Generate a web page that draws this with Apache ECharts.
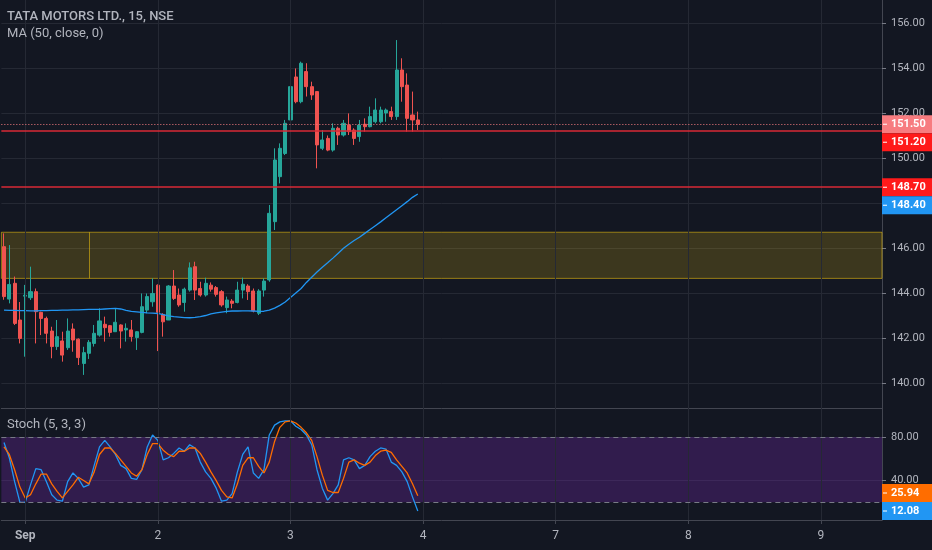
<!DOCTYPE html>
<html>
<head>
<meta charset="utf-8">
<title>TATA MOTORS 15m</title>
<script src="https://cdn.jsdelivr.net/npm/echarts@6/dist/echarts.min.js"></script>
<style>
  html, body { margin: 0; padding: 0; background: #131722; }
  #chart { width: 932px; height: 550px; }
</style>
</head>
<body>
<div id="chart"></div>
<script>
// trading days shown on the time axis (Aug 31 tail, then Sep, incl. future slots)
var days = ['2020-08-31', '2020-09-01', '2020-09-02', '2020-09-03', '2020-09-04', '2020-09-07', '2020-09-08', '2020-09-09'];
var sessionTimes = ['09:15', '09:30', '09:45', '10:00', '10:15', '10:30', '10:45', '11:00', '11:15', '11:30',
  '11:45', '12:00', '12:15', '12:30', '12:45', '13:00', '13:15', '13:30', '13:45', '14:00',
  '14:15', '14:30', '14:45', '15:00', '15:15'];
var monthNames = ['Jan', 'Feb', 'Mar', 'Apr', 'May', 'Jun', 'Jul', 'Aug', 'Sep', 'Oct', 'Nov', 'Dec'];

// candles, 15 min
var openP = [146.06, 143.73, 144.43, 142.80, 143.86, 143.79, 144.06, 143.14, 142.87, 142.31,
  141.62, 141.87, 141.57, 142.40, 141.95, 140.87, 141.32, 141.76, 142.13, 142.61,
  142.55, 142.28, 142.58, 142.36, 142.36, 142.02, 142.25, 143.24, 143.61, 144.35,
  143.05, 142.80, 144.31, 143.91, 143.58, 144.13, 145.17, 144.20, 143.91, 144.35,
  144.24, 144.06, 143.35, 143.64, 143.58, 144.13, 144.31, 144.09, 143.10, 144.13,
  144.58, 147.17, 149.17, 150.20, 151.69, 153.60, 152.50, 153.84, 153.17, 152.95,
  150.43, 150.87, 150.35, 151.32, 151.02, 151.46, 151.24, 150.95, 151.50, 151.39,
  151.61, 151.61, 152.00, 152.06, 151.84, 153.91, 153.24, 151.91, 151.69];
var highP = [146.65, 146.13, 144.73, 143.60, 144.36, 145.17, 144.20, 143.17, 142.95, 142.50,
  142.80, 142.28, 142.87, 142.65, 141.98, 141.61, 141.91, 142.58, 143.32, 142.95,
  142.58, 143.32, 142.61, 142.65, 142.80, 142.31, 143.98, 143.98, 144.65, 144.38,
  143.10, 144.35, 145.02, 144.20, 144.24, 145.36, 145.39, 144.50, 144.68, 144.47,
  144.31, 144.13, 143.84, 143.73, 144.50, 144.68, 144.39, 144.20, 144.17, 144.65,
  147.91, 150.43, 150.65, 151.69, 153.60, 153.98, 154.28, 154.21, 153.39, 152.95,
  151.24, 151.00, 151.54, 151.39, 151.69, 151.98, 151.32, 151.69, 151.76, 152.28,
  152.65, 152.28, 152.20, 152.28, 155.24, 154.43, 153.76, 152.95, 152.06];
var lowP = [143.70, 143.54, 142.58, 141.76, 141.17, 143.69, 141.76, 142.13, 141.76, 141.10,
  141.47, 140.95, 141.47, 141.39, 140.80, 140.36, 141.07, 141.62, 142.06, 141.84,
  142.06, 142.28, 141.54, 141.84, 141.84, 141.47, 142.21, 143.10, 143.39, 141.42,
  142.06, 142.80, 143.69, 143.39, 143.17, 144.06, 143.69, 143.84, 143.84, 144.06,
  143.84, 143.39, 143.10, 143.32, 143.54, 143.76, 143.69, 143.14, 143.02, 143.84,
  144.50, 146.80, 148.87, 150.13, 150.87, 152.43, 152.43, 152.73, 152.58, 149.54,
  150.35, 150.30, 150.28, 150.58, 150.95, 151.02, 150.58, 150.72, 151.17, 151.36,
  151.54, 151.54, 151.61, 151.69, 151.69, 152.50, 151.17, 151.17, 151.24];
var closeP = [143.84, 144.38, 142.65, 141.98, 143.90, 144.06, 143.17, 142.87, 142.21, 141.62,
  142.06, 141.24, 142.31, 141.91, 141.13, 141.35, 141.81, 142.21, 142.76, 142.46,
  142.25, 142.70, 142.31, 142.43, 142.06, 142.28, 143.39, 143.84, 143.98, 143.14,
  142.72, 144.31, 143.76, 143.47, 144.17, 145.12, 144.13, 143.91, 144.43, 144.17,
  143.94, 143.47, 143.69, 143.54, 144.13, 144.39, 144.06, 143.20, 144.09, 144.53,
  147.54, 149.91, 150.43, 151.54, 153.17, 152.50, 154.21, 153.17, 152.80, 150.58,
  150.80, 150.35, 151.32, 151.02, 151.54, 151.17, 150.87, 151.46, 151.39, 151.84,
  152.13, 152.13, 152.13, 151.84, 153.91, 153.17, 151.76, 151.69, 151.50];

// MA (50, close)
var ma50 = [143.24, 143.23, 143.23, 143.22, 143.22, 143.21, 143.21, 143.22, 143.22, 143.23,
  143.23, 143.24, 143.24, 143.25, 143.25, 143.26, 143.27, 143.27, 143.27, 143.29,
  143.31, 143.32, 143.29, 143.23, 143.18, 143.16, 143.14, 143.12, 143.11, 143.09,
  143.04, 142.98, 142.95, 142.93, 142.91, 142.90, 142.92, 142.95, 143.00, 143.07,
  143.12, 143.15, 143.18, 143.20, 143.20, 143.21, 143.21, 143.20, 143.18, 143.19,
  143.24, 143.33, 143.45, 143.60, 143.80, 144.00, 144.20, 144.47, 144.70, 144.93,
  145.14, 145.34, 145.55, 145.77, 145.99, 146.17, 146.33, 146.48, 146.65, 146.82,
  146.99, 147.16, 147.34, 147.52, 147.70, 147.88, 148.06, 148.25, 148.40];

// Stoch (5, 3, 3)
var stochK = [75, 61, 39, 20, 20, 36, 51, 50, 39, 27,
  22, 21, 39, 47, 42, 34, 36, 54, 71, 77,
  71, 64, 54, 51, 42, 41, 50, 71, 82, 77,
  59, 61, 65, 70, 67, 73, 70, 57, 48, 42,
  33, 21, 22, 28, 48, 64, 71, 47, 42, 50,
  82, 91, 94, 95, 95, 90, 87, 82, 73, 50,
  33, 22, 28, 36, 59, 61, 59, 51, 54, 62,
  67, 70, 69, 57, 54, 48, 39, 25, 12.08];
var stochD = [71, 64, 50, 34, 24, 27, 37, 46, 46, 37,
  30, 24, 30, 36, 43, 40, 37, 48, 64, 70,
  70, 65, 59, 53, 47, 44, 50, 64, 74, 74,
  68, 64, 62, 67, 67, 70, 70, 65, 57, 48,
  40, 31, 25, 24, 37, 54, 61, 61, 53, 47,
  57, 76, 89, 94, 95, 93, 89, 84, 77, 62,
  45, 31, 29, 29, 42, 57, 59, 56, 54, 57,
  63, 67, 68, 66, 59, 53, 47, 37, 25.94];

// drawings
var hLines = [151.20, 148.70];
var zone = [144.65, 146.70];
var zoneSplitBar = 16;
var stochBands = [20, 80];

var priceTicks = [140, 142, 144, 146, 148, 150, 152, 154, 156];
var stochTicks = [40, 80];

var FONT = 'Roboto, "Liberation Sans", sans-serif';
var TEXT = '#b2b5be';
var GRIDC = '#252934';
var SEP = '#434651';
var UP = '#26a69a';
var DOWN = '#ef5350';
var HLINE = '#d92a36';
var ZONE_EDGE = 'rgba(241,196,15,0.55)';

// time slots
var categories = [];
days.forEach(function (d, di) {
  var from = di === 0 ? 21 : 0;
  var to = di === days.length - 1 ? 12 : sessionTimes.length;
  for (var k = from; k < to; k++) {
    categories.push(d + ' ' + sessionTimes[k]);
  }
});
var dayStarts = [];
categories.forEach(function (c, i) {
  if (c.slice(11) === '09:15') dayStarts.push(i);
});
function isDayStart(i) {
  return dayStarts.indexOf(i) > -1;
}
function dayLabel(value) {
  var m = parseInt(value.slice(5, 7), 10);
  var d = parseInt(value.slice(8, 10), 10);
  return d === 1 ? '{m|' + monthNames[m - 1] + '}' : String(d);
}

var candleData = openP.map(function (o, i) {
  return [o, closeP[i], lowP[i], highP[i]];
});
var lastClose = closeP[closeP.length - 1];

var dayLines = dayStarts.map(function (i) { return { xAxis: i }; });

// helper: an empty series that only carries markLine / markArea
function overlay(axis, z, extra) {
  var s = { type: 'line', xAxisIndex: axis, yAxisIndex: axis, data: [], z: z, silent: true };
  for (var k in extra) s[k] = extra[k];
  return s;
}
function lines(data, style) {
  return { silent: true, symbol: 'none', label: { show: false }, animation: false, lineStyle: style, data: data };
}

var chart = echarts.init(document.getElementById('chart'));

var option = {
  backgroundColor: '#131722',
  animation: false,
  textStyle: { fontFamily: FONT },
  title: [
    { text: 'TATA MOTORS LTD., 15, NSE', left: 7, top: 10, padding: 0,
      textStyle: { color: TEXT, fontSize: 13, fontWeight: 500, fontFamily: FONT } },
    { text: 'MA (50, close, 0)', left: 7, top: 27, padding: 0,
      textStyle: { color: TEXT, fontSize: 13, fontWeight: 'normal', fontFamily: FONT } },
    { text: 'Stoch (5, 3, 3)', left: 7, top: 418, padding: 0,
      textStyle: { color: TEXT, fontSize: 13, fontWeight: 'normal', fontFamily: FONT } }
  ],
  grid: [
    { left: 1.35, right: 50, top: 0, height: 408 },
    { left: 1.35, right: 50, top: 408, height: 112 }
  ],
  xAxis: [
    {
      type: 'category', gridIndex: 0, data: categories,
      axisLine: { show: true, lineStyle: { color: SEP } },
      axisTick: { show: false }, axisLabel: { show: false }, splitLine: { show: false }
    },
    {
      type: 'category', gridIndex: 1, data: categories,
      axisLine: { show: true, lineStyle: { color: SEP } },
      axisTick: {
        show: true, alignWithLabel: true, length: 4, lineStyle: { color: SEP },
        interval: function (i) { return isDayStart(i); }
      },
      axisLabel: {
        color: TEXT, fontSize: 12, margin: 10, fontFamily: FONT,
        interval: function (i) { return isDayStart(i); },
        formatter: dayLabel,
        rich: { m: { fontWeight: 'bold', fontSize: 12, color: TEXT, fontFamily: FONT } }
      },
      splitLine: { show: false }
    }
  ],
  yAxis: [
    {
      type: 'value', gridIndex: 0, position: 'right', min: 138.89, max: 157.02, scale: true,
      axisLine: { show: true, lineStyle: { color: SEP } },
      axisTick: { show: true, length: 4, customValues: priceTicks, lineStyle: { color: '#787b86' } },
      axisLabel: {
        color: TEXT, fontSize: 11, margin: 9, fontFamily: FONT, customValues: priceTicks,
        formatter: function (v) { return v.toFixed(2); }
      },
      splitLine: { show: true, lineStyle: { color: GRIDC } }
    },
    {
      type: 'value', gridIndex: 1, position: 'right', min: 3.7, max: 106.8,
      axisLine: { show: true, lineStyle: { color: SEP } },
      axisTick: { show: true, length: 4, customValues: stochTicks, lineStyle: { color: '#787b86' } },
      axisLabel: {
        color: TEXT, fontSize: 11, margin: 9, fontFamily: FONT, customValues: stochTicks,
        formatter: function (v) { return v.toFixed(2); }
      },
      splitLine: { show: true, lineStyle: { color: GRIDC } }
    }
  ],
  series: [
    overlay(0, 1, { markLine: lines(dayLines, { color: GRIDC, type: 'solid', width: 1 }) }),
    {
      type: 'candlestick', xAxisIndex: 0, yAxisIndex: 0, data: candleData, z: 3,
      barWidth: 3.6,
      itemStyle: { color: UP, color0: DOWN, borderColor: UP, borderColor0: DOWN, borderWidth: 1 }
    },
    {
      type: 'line', name: 'MA', xAxisIndex: 0, yAxisIndex: 0, data: ma50, z: 4,
      showSymbol: false, smooth: false,
      lineStyle: { color: '#2196f3', width: 1.3 }
    },
    overlay(0, 5, {
      markArea: {
        silent: true,
        itemStyle: { color: 'rgba(241,196,15,0.19)', borderColor: ZONE_EDGE, borderWidth: 1 },
        data: [[{ yAxis: zone[1] }, { yAxis: zone[0] }]]
      },
      markLine: lines([[{ xAxis: zoneSplitBar, yAxis: zone[1] }, { xAxis: zoneSplitBar, yAxis: zone[0] }]],
        { color: ZONE_EDGE, type: 'solid', width: 1 })
    }),
    overlay(0, 6, {
      markLine: lines(hLines.map(function (v) { return { yAxis: v }; }),
        { color: HLINE, type: 'solid', width: 1.5 })
    }),
    overlay(0, 6, {
      markLine: lines([{ yAxis: lastClose }], { color: '#f77c80', type: [1, 2], width: 1 })
    }),
    overlay(1, 1, {
      markArea: {
        silent: true,
        itemStyle: { color: 'rgba(120,40,180,0.3)' },
        data: [[{ yAxis: stochBands[1] }, { yAxis: stochBands[0] }]]
      },
      markLine: lines(dayLines, { color: GRIDC, type: 'solid', width: 1 })
    }),
    overlay(1, 2, {
      markLine: lines(stochBands.map(function (v) { return { yAxis: v }; }),
        { color: '#787b86', type: [5, 4], width: 1 })
    }),
    {
      type: 'line', name: '%K', xAxisIndex: 1, yAxisIndex: 1, data: stochK, z: 3,
      showSymbol: false, lineStyle: { color: '#2196f3', width: 1.3 }
    },
    {
      type: 'line', name: '%D', xAxisIndex: 1, yAxisIndex: 1, data: stochD, z: 3,
      showSymbol: false, lineStyle: { color: '#ff6d00', width: 1.3 }
    }
  ]
};
chart.setOption(option);

// value tags on the price scale
var tags = [
  { value: lastClose, axis: 0, bg: '#f77c80' },
  { value: hLines[0], axis: 0, bg: '#ff1a1a' },
  { value: hLines[1], axis: 0, bg: '#ff1a1a' },
  { value: ma50[ma50.length - 1], axis: 0, bg: '#2196f3' },
  { value: stochD[stochD.length - 1], axis: 1, bg: '#ff6d00' },
  { value: stochK[stochK.length - 1], axis: 1, bg: '#2196f3' }
];
var paneBottom = [408, 520];
var TAG_H = 18;
var placed = [[], []];
tags.forEach(function (t) {
  t.y = chart.convertToPixel({ yAxisIndex: t.axis }, t.value);
});
[0, 1].forEach(function (a) {
  var list = tags.filter(function (t) { return t.axis === a; })
    .sort(function (p, q) { return p.y - q.y; });
  for (var i = 1; i < list.length; i++) {
    if (list[i].y < list[i - 1].y + TAG_H) list[i].y = list[i - 1].y + TAG_H;
    if (list[i].y + TAG_H / 2 > paneBottom[a]) {
      list[i].y = paneBottom[a] - TAG_H / 2;
      list[i - 1].y = Math.min(list[i - 1].y, list[i].y - TAG_H);
    }
  }
  placed[a] = list;
});
var graphics = [];
placed[0].concat(placed[1]).forEach(function (t) {
  graphics.push({
    type: 'rect', z: 100,
    shape: { x: 882, y: t.y - TAG_H / 2, width: 50, height: TAG_H },
    style: { fill: t.bg }
  });
  graphics.push({
    type: 'line', z: 101,
    shape: { x1: 883, y1: t.y, x2: 887, y2: t.y },
    style: { stroke: '#ffffff', lineWidth: 1 }
  });
  graphics.push({
    type: 'text', z: 101,
    style: {
      text: t.value.toFixed(2), x: 891, y: t.y, align: 'left', verticalAlign: 'middle',
      fill: '#ffffff', fontSize: 11, fontWeight: 'bold', fontFamily: FONT
    }
  });
});
chart.setOption({ graphic: graphics });
</script>
</body>
</html>
